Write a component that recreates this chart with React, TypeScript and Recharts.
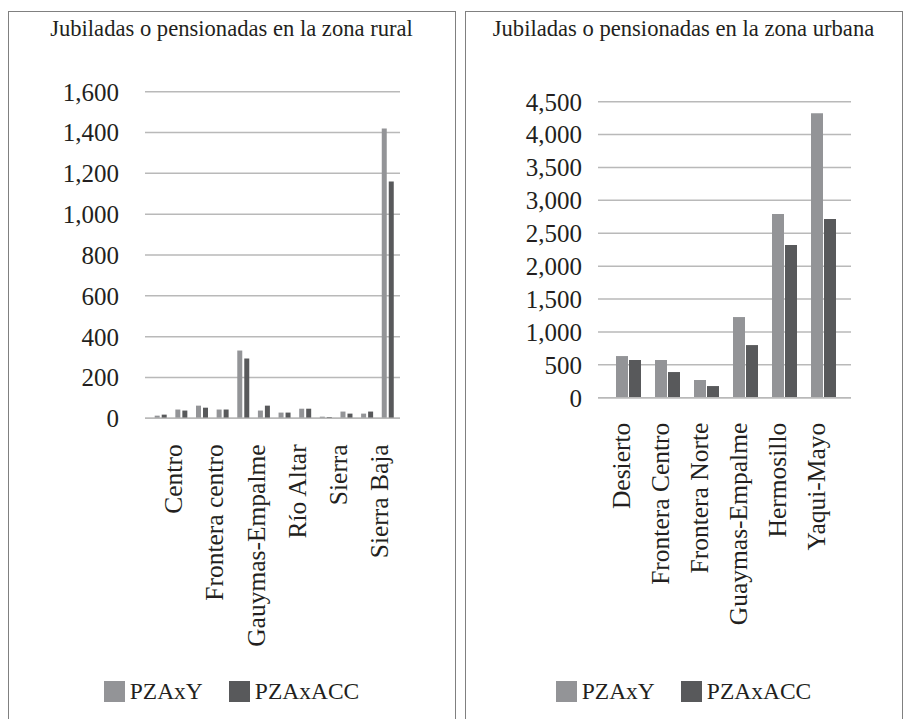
import React from 'react';
import { BarChart, Bar, XAxis, YAxis, CartesianGrid, Legend } from 'recharts';

// ---- Data ----
const ruralCategories = [
  'Centro', 'Desierto', 'Frontera centro', 'Frontera Norte', 'Gauymas-Empalme', 'Hermosillo',
  'Río Altar', 'Río Sonora', 'Sierra', 'Sierra Alta', 'Sierra Baja', 'Yaqui-Mayo',
];
const ruralPZAxY = [13, 43, 62, 43, 332, 38, 28, 47, 8, 33, 23, 1420];
const ruralPZAxACC = [18, 38, 52, 43, 293, 62, 28, 47, 6, 23, 33, 1160];
const ruralTicks = [0, 200, 400, 600, 800, 1000, 1200, 1400, 1600];

const urbanCategories = ['Desierto', 'Frontera Centro', 'Frontera Norte', 'Guaymas-Empalme', 'Hermosillo', 'Yaqui-Mayo'];
const urbanPZAxY = [633, 573, 269, 1226, 2791, 4326];
const urbanPZAxACC = [573, 390, 177, 800, 2320, 2715];
const urbanTicks = [0, 500, 1000, 1500, 2000, 2500, 3000, 3500, 4000, 4500];

const seriesNames = ['PZAxY', 'PZAxACC'];
const ruralTitle = 'Jubiladas o pensionadas en la zona rural';
const urbanTitle = 'Jubiladas o pensionadas en la zona urbana';

const ruralData = ruralCategories.map((c, i) => ({ name: c, PZAxY: ruralPZAxY[i], PZAxACC: ruralPZAxACC[i] }));
const urbanData = urbanCategories.map((c, i) => ({ name: c, PZAxY: urbanPZAxY[i], PZAxACC: urbanPZAxACC[i] }));

// ---- Style ----
const FONT = '"Liberation Serif", "Times New Roman", serif';
const TEXT = '#231f20';
const LIGHT = '#939497';
const DARK = '#58595b';
const GRID = '#b9b9b9';
const BORDER = '#808080';

const fmt = (v: number) => v.toLocaleString('en-US');

const makeTick = (shiftX: number, shiftY: number) => (props: any) => {
  const { x, y, payload } = props;
  const yy = y + shiftY;
  return (
    <text
      x={x}
      y={yy}
      dy={shiftX}
      transform={`rotate(-90 ${x} ${yy})`}
      textAnchor="end"
      fontSize={25.5}
      fontFamily={FONT}
      fill={TEXT}
    >
      {payload.value}
    </text>
  );
};

const LegendContent = (props: any) => {
  const payload = [...(props.payload || [])].sort(
    (a: any, b: any) => seriesNames.indexOf(a.value) - seriesNames.indexOf(b.value)
  );
  return (
    <div style={{ display: 'flex', justifyContent: 'center', alignItems: 'center', gap: 26, fontFamily: FONT, fontSize: 23.5, color: TEXT }}>
      {payload.map((p: any) => (
        <span key={p.value} style={{ display: 'flex', alignItems: 'center' }}>
          <span style={{ display: 'inline-block', width: 21, height: 21, background: p.color, marginRight: 5 }} />
          <span style={{ lineHeight: '21px' }}>{p.value}</span>
        </span>
      ))}
    </div>
  );
};

const Title = ({ text, left, width }: { text: string; left: number; width: number }) => (
  <div
    style={{
      position: 'absolute', left, top: 16, width, textAlign: 'center',
      fontFamily: FONT, fontSize: 22.6, color: TEXT, lineHeight: '26px',
    }}
  >
    {text}
  </div>
);

export default function App() {
  return (
    <div style={{ position: 'fixed', left: 0, top: 0, width: 903, height: 719, overflow: 'hidden', background: '#fff' }}>
      {/* panel borders */}
      <div style={{ position: 'absolute', left: 8, top: 11, width: 446, height: 720, borderLeft: `1px solid ${BORDER}`, borderTop: `1px solid ${BORDER}`, borderRight: `1px solid ${BORDER}` }} />
      <div style={{ position: 'absolute', left: 465, top: 11, width: 436, height: 720, borderLeft: `1px solid ${BORDER}`, borderTop: `1px solid ${BORDER}`, borderRight: `1px solid ${BORDER}` }} />

      <Title text={ruralTitle} left={8} width={447} />
      <Title text={urbanTitle} left={465} width={437} />

      {/* Rural chart */}
      <div style={{ position: 'absolute', left: 8, top: 12 }}>
        <BarChart width={447} height={707} data={ruralData} margin={{ top: 79.7, right: 55, bottom: 0, left: 0 }} barSize={5} barGap={2}>
          <CartesianGrid vertical={false} stroke={GRID} strokeWidth={1.5} />
          <XAxis
            dataKey="name"
            height={300.7}
            interval={1}
            tickLine={false}
            tickSize={0}
            tickMargin={0}
            axisLine={{ stroke: GRID, strokeWidth: 1.5 }}
            padding={{ left: 5.7, right: 1.6 }}
            tick={makeTick(21, 26)}
          />
          <YAxis
            width={137}
            domain={[0, 1600]}
            ticks={ruralTicks}
            interval={0}
            tickFormatter={fmt}
            axisLine={false}
            tickLine={false}
            tickSize={6}
            tickMargin={20}
            tick={{ fontSize: 25, fontFamily: FONT, fill: TEXT }}
          />
          <Legend
            content={<LegendContent />}
            wrapperStyle={{ position: 'absolute', left: 0, top: 669, width: 447, height: 0, overflow: 'visible' }}
          />
          <Bar dataKey="PZAxY" name={seriesNames[0]} fill={LIGHT} isAnimationActive={false} />
          <Bar dataKey="PZAxACC" name={seriesNames[1]} fill={DARK} isAnimationActive={false} />
        </BarChart>
      </div>

      {/* Urban chart */}
      <div style={{ position: 'absolute', left: 465, top: 12 }}>
        <BarChart width={437} height={707} data={urbanData} margin={{ top: 89.7, right: 51, bottom: 0, left: 0 }} barSize={12} barGap={1}>
          <CartesianGrid vertical={false} stroke={GRID} strokeWidth={1.5} />
          <XAxis
            dataKey="name"
            height={321.3}
            interval={0}
            tickLine={false}
            tickSize={0}
            tickMargin={0}
            axisLine={{ stroke: GRID, strokeWidth: 1.5 }}
            padding={{ left: 11, right: 8 }}
            tick={makeTick(2, 25)}
          />
          <YAxis
            width={133}
            domain={[0, 4500]}
            ticks={urbanTicks}
            interval={0}
            tickFormatter={fmt}
            axisLine={false}
            tickLine={false}
            tickSize={6}
            tickMargin={10}
            tick={{ fontSize: 25, fontFamily: FONT, fill: TEXT }}
          />
          <Legend
            content={<LegendContent />}
            wrapperStyle={{ position: 'absolute', left: 0, top: 669, width: 437, height: 0, overflow: 'visible' }}
          />
          <Bar dataKey="PZAxY" name={seriesNames[0]} fill={LIGHT} isAnimationActive={false} />
          <Bar dataKey="PZAxACC" name={seriesNames[1]} fill={DARK} isAnimationActive={false} />
        </BarChart>
      </div>
    </div>
  );
}
